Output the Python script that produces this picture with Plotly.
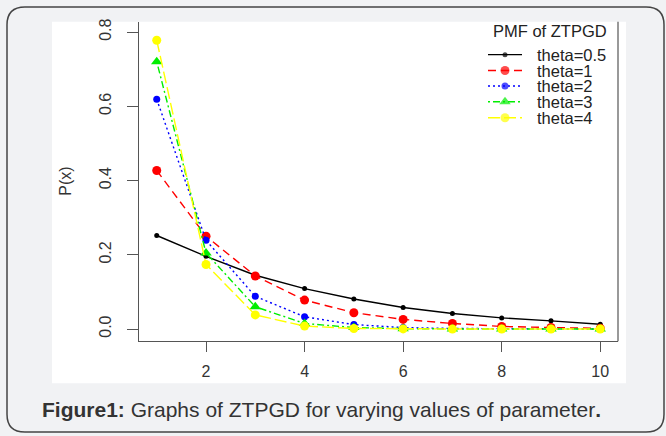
import plotly.graph_objects as go

# ---------------- data ----------------
x_vals = [1, 2, 3, 4, 5, 6, 7, 8, 9, 10]
theta_05 = [0.252, 0.196, 0.145, 0.109, 0.081, 0.058, 0.042, 0.030, 0.022, 0.013]
theta_1 = [0.427, 0.250, 0.143, 0.078, 0.044, 0.026, 0.015, 0.007, 0.004, 0.002]
theta_2 = [0.619, 0.239, 0.088, 0.033, 0.012, 0.004, 0.0015, 0.0005, 0.0002, 0.0001]
theta_3 = [0.720, 0.205, 0.060, 0.015, 0.004, 0.001, 0.0003, 0.0001, 0.0, 0.0]
theta_4 = [0.778, 0.174, 0.038, 0.008, 0.0015, 0.0003, 0.0001, 0.0, 0.0, 0.0]
series_names = ["theta=0.5", "theta=1", "theta=2", "theta=3", "theta=4"]
series_values = [theta_05, theta_1, theta_2, theta_3, theta_4]
x_ticks = [2, 4, 6, 8, 10]
y_ticks = [0.0, 0.2, 0.4, 0.6, 0.8]
y_tick_labels = ["0.0", "0.2", "0.4", "0.6", "0.8"]
legend_title = "PMF of ZTPGD"
y_title = "P(x)"
caption = "<b>Figure1:</b> Graphs of ZTPGD for varying values of parameter<b>.</b>"

# ---------------- styles ----------------
W, H = 666, 436
FONT = "Liberation Sans, Arial, sans-serif"
colors = ["#000000", "#ff0000", "#0000ff", "#00ee00", "#ffff00"]
dashes = ["solid", "8px,5px", "2px,3px", "2px,3px,7px,3px", "12px,4px"]
symbols = ["circle", "circle", "circle", "triangle-up", "circle"]
msizes = [5, 9, 7, 10, 9]


def px(x):
    return x / W


def py(y):
    return 1 - y / H


fig = go.Figure()

for name, vals, c, d, s, ms in zip(series_names, series_values, colors, dashes, symbols, msizes):
    fig.add_trace(go.Scatter(
        x=x_vals, y=vals, mode="lines+markers", name=name,
        line=dict(color=c, width=1.4, dash=d),
        marker=dict(color=c, symbol=s, size=ms, line=dict(width=0)),
        showlegend=False, xaxis="x", yaxis="y",
    ))

# custom legend drawn on an overlay pixel axis
leg_rows = [52, 68, 83.5, 99.5, 115.5]
for name, c, d, s, ms, yy in zip(series_names, colors, dashes, symbols, msizes, leg_rows):
    fig.add_trace(go.Scatter(
        x=[488, 505, 522], y=[yy, yy, yy], mode="lines+markers",
        line=dict(color=c, width=1.4, dash=d),
        marker=dict(color=c, symbol=s, size=[0, ms, 0], line=dict(width=0)),
        showlegend=False, xaxis="x2", yaxis="y2", hoverinfo="skip",
    ))

annotations = [
    dict(x=550, y=28, xref="x2", yref="y2", text=legend_title, showarrow=False,
         xanchor="center", yanchor="middle", font=dict(family=FONT, size=16.5, color="#222")),
]
for name, yy in zip(series_names, leg_rows):
    annotations.append(dict(x=536, y=yy, xref="x2", yref="y2", text=name, showarrow=False,
                            xanchor="left", yanchor="middle", borderpad=0,
                            font=dict(family=FONT, size=16.5, color="#222")))
annotations.append(dict(x=px(66), y=py(180), xref="paper", yref="paper", text=y_title,
                        showarrow=False, textangle=-90, xanchor="center", yanchor="middle",
                        font=dict(family=FONT, size=16, color="#333")))
annotations.append(dict(x=px(40), y=py(409), xref="paper", yref="paper", text=caption,
                        showarrow=False, xanchor="left", yanchor="middle",
                        font=dict(family=FONT, size=21, color="#333")))

# rounded outer border
x0, y0, x1, y1, r = 7, 4, 664, 432, 18
path = (f"M {px(x0)},{py(y0 + r)} Q {px(x0)},{py(y0)} {px(x0 + r)},{py(y0)} "
        f"L {px(x1 - r)},{py(y0)} Q {px(x1)},{py(y0)} {px(x1)},{py(y0 + r)} "
        f"L {px(x1)},{py(y1 - r)} Q {px(x1)},{py(y1)} {px(x1 - r)},{py(y1)} "
        f"L {px(x0 + r)},{py(y1)} Q {px(x0)},{py(y1)} {px(x0)},{py(y1 - r)} Z")

shapes = [
    dict(type="rect", xref="paper", yref="paper", x0=px(52), x1=px(626), y0=py(383), y1=py(19),
         fillcolor="white", line=dict(width=0), layer="below"),
    dict(type="path", xref="paper", yref="paper", path=path,
         line=dict(color="#444", width=1.5), fillcolor="rgba(0,0,0,0)", layer="below"),
    dict(type="line", xref="paper", yref="paper", x0=px(618), x1=px(618), y0=py(340.7), y1=py(19),
         line=dict(color="#555", width=1.2), layer="above"),
]

fig.update_layout(
    width=W, height=H,
    margin=dict(l=0, r=0, t=0, b=0),
    paper_bgcolor="#f1f2f4",
    plot_bgcolor="rgba(0,0,0,0)",
    showlegend=False,
    font=dict(family=FONT, color="#333"),
    xaxis=dict(domain=[px(139), px(618)], range=[0.64, 10.36], anchor="y",
               tickmode="array", tickvals=x_ticks, ticks="outside", ticklen=10,
               tickcolor="#555", tickwidth=1.2, showline=True, linecolor="#555", linewidth=1.2,
               showgrid=False, zeroline=False, tickfont=dict(family=FONT, size=16, color="#333"),
               ticklabelstandoff=5),
    yaxis=dict(domain=[py(340.7), py(19)], range=[-0.0332, 0.8276], anchor="x",
               tickmode="array", tickvals=y_ticks, ticktext=y_tick_labels, tickangle=-90,
               ticks="outside", ticklen=11, tickcolor="#555", tickwidth=1.2,
               showline=True, linecolor="#555", linewidth=1.2,
               showgrid=False, zeroline=False, tickfont=dict(family=FONT, size=16, color="#333"),
               ticklabelstandoff=10),
    xaxis2=dict(domain=[0, 1], range=[0, W], anchor="y2", visible=False),
    yaxis2=dict(domain=[0, 1], range=[H, 0], anchor="x2", visible=False),
    annotations=annotations,
    shapes=shapes,
)

fig.write_html("out.html", config={"displayModeBar": False},
               post_script="document.body.style.margin='0';document.body.style.overflow='hidden';")
